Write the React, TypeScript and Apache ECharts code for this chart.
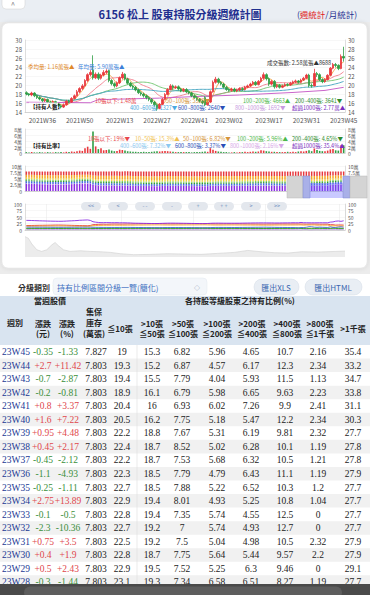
import React, { useEffect, useRef } from 'react';
import * as echarts from 'echarts';

const SANS = '"Noto Sans CJK TC","Noto Sans",sans-serif';
const SERIF = '"Liberation Serif","DejaVu Serif",serif';

// ---------- categories ----------
const weeks: string[] = [];
[[2021, 30, 52], [2022, 1, 52], [2023, 1, 45]].forEach(([y, s, e]) => {
  for (let w = s; w <= e; w++) weeks.push(`${y}W${w < 10 ? '0' + w : w}`);
});
const weekTickLabels = ['2021W36', '2021W50', '2022W13', '2022W27', '2022W41', '2023W02', '2023W17', '2023W31', '2023W45'];

// ---------- weekly price ----------
const priceOpen = [
  18.3, 18.0, 17.8, 18.2, 17.6, 17.2, 16.9, 16.5, 16.8, 16.2,
  16.0, 16.3, 15.8, 15.4, 15.1, 15.6, 16.4, 16.2, 17.0, 17.6,
  18.5, 19.2, 19.8, 21.0, 22.3, 23.3, 21.6, 22.4, 21.5, 22.2,
  22.8, 23.2, 21.0, 20.3, 19.8, 20.5, 21.6, 22.4, 21.3, 20.4,
  19.8, 19.5, 18.9, 18.3, 18.0, 17.6, 17.2, 16.8, 16.2, 15.6,
  14.8, 15.7, 16.8, 17.9, 19.0, 19.8, 19.4, 19.6, 19.1, 18.7,
  19.0, 18.5, 18.2, 17.6, 17.2, 16.8, 16.4, 17.2, 15.6, 16.2,
  18.5, 20.6, 21.3, 20.6, 20.2, 19.5, 19.0, 18.8, 19.1, 18.7,
  18.9, 19.2, 19.0, 19.5, 19.8, 20.2, 20.6, 20.1, 20.8, 21.5,
  22.3, 21.4, 20.2, 20.8, 19.6, 19.9, 19.5, 19.8, 20.1, 20.0,
  20.4, 20.7, 20.9, 20.6, 21.1, 21.5, 22.2, 19.9, 19.8, 22.55,
  22.3, 21.2, 20.75, 21.2, 22.15, 23.75, 24.55, 24.35, 23.65, 26.35];
const priceClose = [
  18.0, 17.8, 18.2, 17.6, 17.2, 16.9, 16.5, 16.8, 16.2, 16.0,
  16.3, 15.8, 15.4, 15.1, 15.6, 16.4, 16.2, 17.0, 17.6, 18.5,
  19.2, 19.8, 21.0, 22.3, 22.8, 21.6, 22.4, 21.5, 22.2, 22.8,
  23.1, 21.0, 20.3, 19.8, 20.5, 21.6, 22.4, 21.3, 20.4, 19.8,
  19.5, 18.9, 18.3, 18.0, 17.6, 17.2, 16.8, 16.2, 15.6, 14.8,
  15.7, 16.8, 17.9, 19.0, 19.8, 19.4, 19.6, 19.1, 18.7, 19.0,
  18.5, 18.2, 17.6, 17.2, 16.8, 16.4, 16.0, 15.6, 16.2, 18.5,
  20.6, 21.3, 20.6, 20.2, 19.5, 19.0, 18.8, 19.1, 18.7, 18.9,
  19.2, 19.0, 19.5, 19.8, 20.2, 20.6, 20.1, 20.8, 21.5, 22.3,
  21.4, 20.2, 20.8, 19.6, 19.9, 19.5, 19.8, 20.1, 20.0, 20.4,
  20.7, 20.9, 20.6, 21.1, 21.5, 22.2, 19.9, 19.8, 22.55, 22.3,
  21.2, 20.75, 21.2, 22.15, 23.75, 24.55, 24.35, 23.65, 26.35, 26.0];
const priceLow = [
  17.7, 17.5, 17.5, 17.3, 16.9, 16.6, 16.1, 16.2, 15.9, 15.7,
  15.8, 15.5, 15.1, 14.8, 14.9, 15.4, 15.9, 16.0, 16.8, 17.4,
  18.2, 18.9, 19.6, 20.7, 21.9, 21.2, 21.3, 21.1, 21.2, 21.9,
  22.4, 20.6, 19.9, 19.4, 19.5, 20.2, 21.3, 21.0, 20.1, 19.5,
  19.1, 18.6, 18.0, 17.6, 17.2, 16.8, 16.4, 15.8, 15.2, 14.3,
  14.6, 15.5, 16.6, 17.7, 18.8, 19.0, 19.1, 18.8, 18.4, 18.4,
  18.2, 17.9, 17.3, 16.9, 16.5, 16.1, 15.7, 15.3, 15.4, 16.0,
  18.3, 20.3, 20.3, 19.9, 19.2, 18.7, 18.5, 18.5, 18.4, 18.4,
  18.6, 18.7, 18.8, 19.3, 19.6, 20.0, 19.8, 19.9, 20.5, 21.2,
  21.0, 19.8, 19.9, 19.2, 19.3, 19.2, 19.3, 19.6, 19.7, 19.8,
  20.1, 20.4, 20.3, 20.4, 20.9, 21.3, 19.5, 19.4, 19.7, 21.8,
  20.9, 20.4, 20.5, 21.0, 22.0, 23.5, 23.9, 23.3, 23.5, 25.2];
const priceHigh = [
  18.6, 18.2, 18.5, 18.4, 17.8, 17.5, 17.1, 17.0, 17.0, 16.5,
  16.6, 16.5, 16.0, 15.7, 15.9, 16.7, 16.7, 17.3, 17.9, 18.9,
  19.5, 20.2, 21.3, 22.6, 23.3, 26.6, 22.8, 22.8, 22.5, 23.3,
  23.5, 23.4, 21.3, 20.6, 20.8, 21.9, 22.9, 22.6, 21.6, 20.7,
  20.1, 19.8, 19.2, 18.6, 18.3, 17.9, 17.5, 17.1, 16.5, 15.9,
  16.0, 17.1, 18.2, 19.3, 20.2, 20.1, 19.9, 19.9, 19.4, 19.3,
  19.3, 18.8, 18.5, 17.9, 17.5, 17.1, 16.7, 17.5, 16.5, 18.8,
  21.0, 21.8, 21.6, 20.9, 20.5, 19.8, 19.3, 19.4, 19.4, 19.2,
  19.5, 19.5, 19.8, 20.1, 20.5, 20.9, 20.9, 21.1, 21.8, 22.8,
  22.6, 21.7, 21.1, 21.1, 20.2, 20.2, 20.1, 20.4, 20.4, 20.7,
  21.0, 21.2, 21.1, 21.4, 21.8, 22.5, 22.5, 20.3, 23.6, 22.9,
  22.6, 21.5, 21.5, 22.4, 24.0, 24.9, 24.9, 24.6, 26.8, 28.5];

// weekly volume (萬張)
const volumeWan = [
  0.3, 0.2, 0.3, 0.2, 0.2, 0.3, 0.2, 0.2, 0.3, 0.2,
  0.2, 0.3, 0.2, 0.3, 0.2, 0.4, 0.3, 0.5, 0.4, 0.6,
  0.8, 0.7, 1.6, 2.1, 1.4, 7.2, 2.2, 1.3, 1.6, 0.9,
  1.0, 1.2, 0.8, 0.6, 0.7, 1.1, 1.0, 0.8, 0.6, 0.5,
  0.4, 0.4, 0.3, 0.3, 0.4, 0.3, 0.3, 0.4, 0.5, 0.6,
  0.5, 0.6, 0.7, 0.6, 0.5, 0.4, 0.3, 0.3, 0.3, 0.3,
  0.3, 0.3, 0.2, 0.3, 0.3, 0.3, 0.4, 0.5, 0.4, 1.6,
  1.1, 0.7, 0.5, 0.4, 0.3, 0.3, 0.2, 0.2, 0.3, 0.2,
  0.3, 0.3, 0.4, 0.3, 0.4, 0.5, 0.4, 0.5, 0.9, 0.8,
  0.6, 0.5, 0.4, 0.4, 0.3, 0.3, 0.3, 0.3, 0.4, 0.3,
  0.4, 0.3, 0.5, 0.6, 0.5, 0.7, 0.9, 0.6, 1.5, 1.0,
  0.7, 0.6, 0.6, 0.8, 1.2, 1.3, 0.9, 0.8, 2.6, 2.58];

// holders with <=10張 (萬人), sampled weeks [weekIndex, value]
const smallHolders = [[0, 1.19], [24, 1.18], [27, 1.24], [50, 1.27], [63, 1.3], [80, 1.33], [100, 1.38], [112, 1.42], [119, 1.48]];

// ---------- holding ratio by class (%) ----------
const r10 = [
  17.2, 17.3, 17.4, 17.6, 17.8, 18.0, 18.1, 18.3, 18.4, 18.6,
  18.8, 19.0, 19.1, 19.0, 18.8, 18.5, 18.2, 17.9, 17.6, 17.4,
  17.1, 16.9, 16.6, 16.4, 17.5, 20.4, 21.2, 21.8, 22.1, 22.3,
  22.0, 22.4, 22.7, 22.9, 22.8, 22.6, 22.7, 22.9, 23.1, 23.2,
  23.3, 23.5, 23.6, 23.8, 23.9, 24.0, 24.2, 24.3, 24.4, 24.5,
  24.3, 24.0, 23.8, 23.6, 23.5, 23.5, 23.6, 23.6, 23.7, 23.8,
  23.9, 24.0, 24.1, 24.2, 24.3, 24.4, 24.5, 24.6, 24.3, 23.9,
  23.6, 23.4, 23.3, 23.4, 23.5, 23.5, 23.6, 23.6, 23.7, 23.6,
  23.5, 23.4, 23.3, 23.2, 23.1, 23.0, 22.9, 22.8, 22.7, 22.6,
  22.8, 23.0, 22.9, 23.1, 23.2, 23.3, 23.3, 23.2, 23.2, 23.1,
  23.2, 23.2, 23.1, 22.9, 22.8, 22.5, 22.7, 22.8, 22.9, 22.7,
  22.3, 22.2, 22.4, 22.2, 20.5, 20.4, 18.9, 19.4, 19.3, 19];
const r50 = [
  14.6, 14.7, 14.8, 14.9, 15.0, 15.1, 15.2, 15.3, 15.4, 15.5,
  15.6, 15.7, 15.8, 15.8, 15.7, 15.6, 15.4, 15.2, 15.0, 14.8,
  14.6, 14.5, 14.3, 14.2, 14.8, 16.5, 17.2, 17.6, 17.9, 18.1,
  18.0, 18.2, 18.3, 18.4, 18.4, 18.3, 18.4, 18.5, 18.6, 18.7,
  18.8, 18.9, 19.0, 19.1, 19.2, 19.3, 19.4, 19.5, 19.6, 19.7,
  19.6, 19.4, 19.3, 19.2, 19.1, 19.1, 19.2, 19.2, 19.3, 19.3,
  19.4, 19.5, 19.5, 19.6, 19.7, 19.8, 19.9, 20.0, 19.7, 19.4,
  19.2, 19.1, 19.0, 19.1, 19.2, 19.2, 19.3, 19.3, 19.3, 19.2,
  19.2, 19.1, 19.1, 19.0, 19.0, 18.9, 18.9, 18.8, 18.7, 18.6,
  18.6, 18.7, 18.7, 18.9, 19.0, 19.1, 19.1, 19.0, 19.0, 19.1,
  19.2, 19.2, 19.3, 19.5, 18.7, 19.2, 19.2, 19.4, 19.4, 18.5,
  18.5, 18.7, 18.7, 18.8, 16.2, 16, 16.1, 15.5, 15.2, 15.3];
const r100 = [
  7.0, 7.1, 7.1, 7.2, 7.2, 7.3, 7.3, 7.4, 7.4, 7.5,
  7.5, 7.6, 7.6, 7.6, 7.5, 7.5, 7.4, 7.3, 7.2, 7.1,
  7.0, 6.9, 6.8, 6.8, 7.0, 7.4, 7.6, 7.7, 7.8, 7.8,
  7.7, 7.8, 7.9, 7.9, 7.8, 7.7, 7.7, 7.8, 7.8, 7.9,
  7.8, 7.8, 7.9, 7.9, 7.9, 8.0, 8.0, 8.0, 8.1, 8.1,
  8.0, 7.9, 7.9, 7.8, 7.8, 7.8, 7.8, 7.9, 7.9, 7.9,
  7.9, 8.0, 8.0, 8.0, 8.1, 8.1, 8.1, 8.2, 8.0, 7.9,
  7.9, 7.8, 7.8, 7.8, 7.9, 7.9, 7.9, 8.0, 8.0, 7.9,
  7.9, 7.8, 7.8, 7.7, 7.7, 7.6, 7.6, 7.5, 7.5, 7.4,
  7.4, 7.5, 7.5, 7.5, 7.6, 7.6, 7.6, 7.5, 7.5, 7.4,
  7.4, 7.4, 7.34, 7.52, 7.75, 7.5, 7, 7.35, 8.01, 7.88,
  7.79, 7.53, 8.52, 7.67, 7.75, 6.93, 6.79, 7.79, 6.87, 6.82];
const r200 = [
  5.8, 5.8, 5.9, 5.9, 6.0, 6.0, 6.0, 6.1, 6.1, 6.1,
  6.2, 6.2, 6.2, 6.2, 6.1, 6.1, 6.0, 6.0, 5.9, 5.9,
  5.8, 5.8, 5.7, 5.7, 5.8, 6.0, 6.1, 6.1, 6.2, 6.2,
  6.1, 6.1, 6.2, 6.2, 6.1, 6.1, 6.0, 6.0, 6.1, 6.1,
  6.2, 6.2, 6.3, 6.3, 6.3, 6.4, 6.4, 6.5, 6.5, 6.5,
  6.4, 6.3, 6.2, 6.1, 6.1, 6.0, 6.0, 6.0, 6.1, 6.1,
  6.1, 6.2, 6.2, 6.2, 6.3, 6.3, 6.3, 6.4, 6.2, 6.0,
  5.9, 5.8, 5.8, 5.8, 5.8, 5.9, 5.9, 5.9, 5.9, 5.8,
  5.8, 5.8, 5.7, 5.7, 5.7, 5.6, 5.6, 5.6, 5.5, 5.5,
  5.5, 5.5, 5.6, 5.6, 5.6, 5.6, 5.5, 5.5, 5.5, 5.4,
  5.4, 5.5, 6.58, 5.25, 5.64, 5.04, 5.74, 5.74, 4.93, 5.22,
  4.79, 5.68, 5.02, 5.31, 5.18, 6.02, 5.98, 4.04, 4.57, 5.96];
const r400 = [
  5.2, 5.2, 5.3, 5.3, 5.3, 5.4, 5.4, 5.4, 5.5, 5.5,
  5.5, 5.6, 5.6, 5.6, 5.5, 5.5, 5.4, 5.4, 5.3, 5.3,
  5.2, 5.2, 5.1, 5.1, 5.2, 5.5, 5.7, 5.8, 5.9, 6.0,
  6.0, 6.1, 6.1, 6.2, 6.2, 6.1, 6.1, 6.2, 6.2, 6.3,
  6.3, 6.3, 6.3, 6.4, 6.4, 6.4, 6.4, 6.5, 6.5, 6.5,
  6.4, 6.4, 6.3, 6.3, 6.3, 6.2, 6.2, 6.2, 6.3, 6.3,
  6.3, 6.3, 6.4, 6.4, 6.4, 6.4, 6.5, 6.5, 6.4, 6.2,
  6.2, 6.1, 6.1, 6.1, 6.1, 6.2, 6.2, 6.2, 6.2, 6.1,
  6.1, 6.1, 6.0, 6.0, 6.0, 5.9, 5.9, 5.9, 5.8, 5.8,
  5.8, 5.9, 5.9, 6.0, 6.0, 6.1, 6.1, 6.2, 6.2, 6.3,
  6.3, 6.4, 6.51, 6.3, 5.44, 4.98, 4.93, 4.55, 5.25, 6.52,
  6.43, 6.32, 6.28, 6.19, 5.47, 7.26, 6.65, 5.93, 6.17, 4.65];
const r800 = [
  11.0, 11.0, 10.9, 10.9, 10.8, 10.8, 10.7, 10.7, 10.6, 10.6,
  10.5, 10.5, 10.4, 10.4, 10.5, 10.5, 10.6, 10.6, 10.7, 10.7,
  10.8, 10.8, 10.9, 10.9, 10.8, 10.5, 10.3, 10.2, 10.1, 10.0,
  10.0, 9.9, 9.9, 9.8, 9.8, 9.9, 9.9, 10.0, 10.0, 9.9,
  9.8, 9.7, 9.6, 9.5, 9.4, 9.3, 9.2, 9.1, 9.0, 8.9,
  9.0, 9.2, 9.4, 9.5, 9.6, 9.6, 9.6, 9.5, 9.5, 9.4,
  9.4, 9.3, 9.2, 9.1, 9.0, 8.9, 8.8, 8.7, 8.9, 9.3,
  9.6, 9.8, 9.9, 9.9, 9.8, 9.8, 9.7, 9.7, 9.6, 9.7,
  9.8, 9.9, 10.0, 10.1, 10.2, 10.3, 10.4, 10.5, 10.6, 10.8,
  10.7, 10.5, 10.4, 10.2, 10.0, 9.9, 9.8, 9.7, 9.6, 9.5,
  9.4, 9.3, 8.27, 9.46, 9.57, 10.5, 12.7, 12.5, 10.8, 10.3,
  11.1, 10.5, 10.1, 9.81, 12.2, 9.9, 9.63, 11.5, 12.3, 10.7];
const r1k = [
  2.2, 2.2, 2.2, 2.1, 2.1, 2.1, 2.1, 2.0, 2.0, 2.0,
  2.0, 2.0, 1.9, 1.9, 1.9, 2.0, 2.0, 2.0, 2.1, 2.1,
  2.1, 2.2, 2.2, 2.2, 2.1, 1.9, 1.8, 1.7, 1.7, 1.6,
  1.6, 1.6, 1.5, 1.5, 1.5, 1.6, 1.6, 1.6, 1.5, 1.5,
  1.4, 1.4, 1.3, 1.3, 1.2, 1.2, 1.2, 1.1, 1.1, 1.0,
  1.1, 1.2, 1.3, 1.3, 1.4, 1.4, 1.4, 1.4, 1.3, 1.3,
  1.3, 1.2, 1.2, 1.2, 1.1, 1.1, 1.1, 1.0, 1.1, 1.3,
  1.4, 1.5, 1.5, 1.5, 1.5, 1.4, 1.4, 1.4, 1.4, 1.4,
  1.5, 1.5, 1.5, 1.6, 1.6, 1.6, 1.7, 1.7, 1.7, 1.8,
  1.8, 1.7, 1.6, 1.5, 1.4, 1.3, 1.3, 1.2, 1.2, 1.2,
  1.2, 1.2, 1.19, 0, 2.2, 2.32, 0, 0, 1.04, 1.2,
  1.19, 1.21, 1.19, 2.32, 2.34, 2.41, 2.23, 1.13, 2.34, 2.16];
const r1kp = [
  37.0, 36.8, 36.5, 36.1, 35.7, 35.3, 35.0, 34.7, 34.4, 34.1,
  33.9, 33.7, 33.5, 33.5, 33.8, 34.3, 34.8, 35.3, 35.8, 36.4,
  37.4, 37.8, 38.3, 38.7, 36.8, 31.8, 30.1, 29.0, 28.3, 28.2,
  28.6, 28.3, 28.1, 28.0, 28.2, 27.7, 27.8, 27.6, 27.4, 27.1,
  26.4, 26.2, 26.0, 25.8, 25.6, 25.4, 25.2, 25.0, 24.9, 24.8,
  25.2, 25.6, 26.0, 26.3, 26.4, 26.4, 26.3, 26.2, 26.0, 25.9,
  25.7, 25.5, 25.3, 25.1, 24.9, 24.7, 24.6, 24.6, 25.1, 25.7,
  26.2, 26.3, 26.4, 26.3, 26.2, 26.1, 26.1, 26.1, 26.1, 26.2,
  26.2, 26.4, 26.6, 26.8, 26.9, 27.1, 27.2, 27.3, 27.4, 27.4,
  27.4, 27.2, 27.3, 27.0, 27.0, 27.1, 27.3, 27.4, 27.5, 27.6,
  27.9, 27.8, 27.7, 29.1, 27.9, 27.9, 27.7, 27.7, 27.7, 27.7,
  27.9, 27.8, 27.8, 27.7, 30.3, 31.1, 33.8, 34.7, 33.2, 35.4];
const ratioSeriesData = [r10, r50, r100, r200, r400, r800, r1k, r1kp];
const ratioClassNames = ['≦10張', '10~50張', '50~100張', '100~200張', '200~400張', '400~800張', '800~1000張', '超過1000張'];
const depositoryTotal = 7.803; // 萬張

// history shadow (bottom navigator)
const shadowPos = [0, 1.05, 2.1, 3.7, 5.2, 6.8, 8.4, 9.4, 10.5, 12.0, 14.1, 17.3, 20.4, 23.6, 26.7, 29.8, 34.0, 39.3, 44.5, 49.7, 55.0, 60.2, 65.4, 69.6, 73.8, 78.0, 82.2, 86.4, 91.6, 96.9, 100];
const shadowVol = [62, 57, 40, 22, 17, 22, 37, 44, 34, 22, 17, 19, 17, 16, 14, 10, 7, 8, 10, 9, 8, 11, 14, 20, 16, 13, 12, 16, 15, 17, 18];

// annotation texts
const countLabels = ['10張以下: 1.48萬', '50~100張: 5339▼', '100~200張: 4663▲', '200~400張: 3641▼', '400~600張: 1327▼', '600~800張: 2640▼', '800~1000張: 1692▼', '超過1000張: 2.77萬▲'];
const ratioLabels = ['10張以下: 19%▼', '10~50張: 15.3%▲', '50~100張: 6.82%▼', '100~200張: 5.96%▲', '200~400張: 4.65%▼', '400~600張: 7.32%▼', '600~800張: 3.37%▼', '800~1000張: 2.16%▼', '超過1000張: 35.4%▲'];
const volumeNotes = ['季均量: 1.16萬張▲', '年均量: 5.90萬張▲', '成交張數: 2.58萬張▲8688'];

// table
const tableWeeks = ['23W45', '23W44', '23W43', '23W42', '23W41', '23W40', '23W39', '23W38', '23W37', '23W36', '23W35', '23W34', '23W33', '23W32', '23W31', '23W30', '23W29', '23W28'];
const tableChg = [-0.35, 2.7, -0.7, -0.2, 0.8, 1.6, 0.95, 0.45, -0.45, -1.1, -0.25, 2.75, -0.1, -2.3, 0.75, 0.4, 0.5, -0.3];
const tableChgPct = [-1.33, 11.42, -2.87, -0.81, 3.37, 7.22, 4.48, 2.17, -2.12, -4.93, -1.11, 13.89, -0.5, -10.36, 3.5, 1.9, 2.43, -1.44];
const tableStock = [7.827, 7.803, 7.803, 7.803, 7.803, 7.803, 7.803, 7.803, 7.803, 7.803, 7.803, 7.803, 7.803, 7.803, 7.803, 7.803, 7.803, 7.803];
const headTop = ['>10張', '>50張', '>100張', '>200張', '>400張', '>800張'];
const headBottom = ['≦50張', '≦100張', '≦200張', '≦400張', '≦800張', '≦1千張'];
const navButtons = ['<<', '<', '- -', '-', '+', '+ +', '>', '>>'];

function movingAverage(n: number) {
  return priceClose.map((_, i) => {
    const s = Math.max(0, i - n + 1);
    const seg = priceClose.slice(s, i + 1);
    return +(seg.reduce((a, b) => a + b, 0) / seg.length).toFixed(2);
  });
}

const RED = '#e8383d';
const GREEN = '#2f9e44';
const classColors = ['#e8383d', '#f5a623', '#f2d13a', '#7fcd5a', '#2e9b2e', '#4169e1', '#c39be6', '#8a2be2'];

function txt(text: string, x: number, y: number, size: number, fill: string, opt: any = {}) {
  const align = opt.align || 'center';
  return {
    type: 'text', z: opt.z ?? 100, silent: true,
    style: {
      text, x, y, fontSize: size, fill, fontFamily: opt.family || SANS, fontWeight: opt.weight || 'normal',
      align, verticalAlign: 'middle', textAlign: align, textVerticalAlign: 'middle',
      lineHeight: opt.lh || undefined,
    },
  };
}
function rect(x: number, y: number, w: number, h: number, fill: string, opt: any = {}) {
  return {
    type: 'rect', z: opt.z ?? 100, silent: true,
    shape: { x, y, width: w, height: h, r: opt.r || 0 },
    style: { fill, stroke: opt.stroke || 'none', lineWidth: opt.lw || 0.5, opacity: opt.opacity ?? 1, shadowBlur: opt.blur || 0, shadowColor: opt.shadow || 'rgba(0,0,0,0)' },
  };
}
function hline(x1: number, y1: number, x2: number, y2: number, stroke: string, z = 100) {
  return { type: 'line', z, silent: true, shape: { x1, y1, x2, y2 }, style: { stroke, lineWidth: 0.6 } };
}

function buildGraphics() {
  const g: any[] = [];
  // backgrounds
  g.push(rect(0, 0, 370, 275, '#ececec', { z: 0 }));
  g.push(rect(0, 0, 370, 22, '#eaeef3', { z: 0 }));
  g.push(rect(2, 23, 365, 245, '#ffffff', { z: 0, r: 6, stroke: '#e0e0e0', blur: 4, shadow: 'rgba(0,0,0,0.12)' }));
  // header
  g.push(rect(2, -5, 23, 14, '#ffffff', { z: 1, r: 4, stroke: '#cfcfcf' }));
  g.push(txt('^', 13, 4.5, 8, '#888', { z: 2 }));
  g.push(txt('6156 松上 股東持股分級週統計圖', 180, 14, 11, '#1f2f8f', { weight: 'bold' }));
  g.push({
    type: 'text', z: 100, silent: true,
    style: {
      text: '{a|(}{b|週統計}{a|/月統計)}', x: 327, y: 14, align: 'center', verticalAlign: 'middle', textAlign: 'center', textVerticalAlign: 'middle',
      fontFamily: SANS, fontSize: 8.5,
      rich: { a: { fill: '#1f2f8f', color: '#1f2f8f', fontSize: 8.5, fontFamily: SANS }, b: { fill: '#e02020', color: '#e02020', fontSize: 8.5, fontFamily: SANS } },
    },
  });
  // chart 1 notes
  g.push(txt(volumeNotes[0], 28, 67, 5.5, '#e0892a', { align: 'left' }));
  g.push(txt(volumeNotes[1], 78, 67, 5.5, '#3d7fd9', { align: 'left' }));
  g.push(txt(volumeNotes[2], 267, 63, 5.5, '#333', { align: 'left' }));
  g.push(rect(29, 102.5, 29, 8, '#ffffff', { z: 95, opacity: 0.85 }));
  g.push(txt('【持有人數】', 30, 106.5, 5.5, '#111', { align: 'left', weight: 'bold', lh: 6 }));
  const cX = [95, 166, 243, 295, 130, 178, 235, 292];
  const cColors = ['#e8474b', '#d4943a', '#4cb84c', '#2e8b2e', '#4aa8e0', '#2a4fb8', '#c79ae0', '#7b2fbf'];
  countLabels.forEach((t, k) => g.push(txt(t, cX[k], k < 4 ? 101 : 107.5, 5.5, cColors[k], { align: 'left', lh: 6 })));
  // chart 2 notes
  const rX = [88, 135, 183, 237, 292, 120, 175, 230, 292];
  const rColors = ['#e8474b', '#f0c050', '#d4943a', '#4cb84c', '#2e8b2e', '#8cc8f0', '#2a4fb8', '#d7a8e8', '#7b2fbf'];
  ratioLabels.forEach((t, k) => g.push(txt(t, rX[k], k < 5 ? 139 : 145.5, 5.5, rColors[k], { align: 'left', lh: 6 })));
  g.push(txt('【持有比率】', 30, 145.5, 5.5, '#111', { align: 'left', weight: 'bold', lh: 6 }));
  // navigator overlay on chart 3
  g.push(rect(287, 176, 16, 22, '#d4d4d4', { stroke: '#b8b8b8' }));
  g.push(rect(303, 176, 7, 22, '#a9b0e8', { stroke: '#7f88d0' }));
  g.push(rect(310, 183, 33, 15, 'rgba(100,100,255,0.35)'));
  g.push(rect(343, 176, 7, 22, '#a9b0e8', { stroke: '#7f88d0' }));
  g.push(rect(350, 176, 17, 22, '#d4d4d4', { stroke: '#b8b8b8' }));
  // buttons
  const bx = [91, 118, 145, 172, 198, 224, 251, 277];
  navButtons.forEach((b, k) => {
    g.push(rect(bx[k] - 10, 202, 20, 8.5, '#e3e7ed', { r: 4.25 }));
    g.push(txt(b, bx[k], 206.3, 5.5, '#6f8fbf'));
  });
  // table area
  g.push(rect(0, 274, 370, 321, '#ffffff', { z: 80 }));
  g.push(txt('分級類別：', 18, 287, 8, '#333', { align: 'left', weight: 'bold' }));
  g.push(rect(53, 278, 154, 17, '#f3f6fa', { r: 4, stroke: '#e2e8ef' }));
  g.push(txt('持有比例區間分級一覽(簡化)', 57, 287, 8, '#3c6fc0', { align: 'left' }));
  g.push(txt('◇', 197, 287, 6, '#7a8ca8'));
  g.push(rect(254, 279, 45, 16, '#e9eef4', { r: 8, stroke: '#d5dde7' }));
  g.push(txt('匯出XLS', 276, 287, 8, '#3d68b0'));
  g.push(rect(305, 279, 57, 16, '#e9eef4', { r: 8, stroke: '#d5dde7' }));
  g.push(txt('匯出HTML', 333, 287, 8, '#3d68b0'));
  // table head
  g.push(rect(0, 296, 370, 49, '#d9e4f0'));
  const HB = { weight: 'bold', lh: 9 };
  g.push(txt('當週股價', 50, 300.5, 8, '#222', HB));
  g.push(txt('各持股等級股東之持有比例(%)', 240, 300.5, 8, '#222', HB));
  g.push(txt('集保', 94, 311.5, 8, '#222', HB));
  g.push(txt('週別', 15, 322, 8, '#222', HB));
  g.push(txt('漲跌', 43, 323, 8, '#222', HB));
  g.push(txt('(元)', 43, 333.5, 8, '#222', HB));
  g.push(txt('漲跌', 67, 323, 8, '#222', HB));
  g.push(txt('(%)', 67, 333.5, 8, '#222', HB));
  g.push(txt('庫存', 94, 322.5, 8, '#222', HB));
  g.push(txt('(萬張)', 94, 333.5, 8, '#222', HB));
  g.push(txt('≦10張', 120, 328, 8, '#222', HB));
  const hx = [152, 183, 217, 252, 287, 320];
  headTop.forEach((t, k) => {
    g.push(txt(t, hx[k], 323, 8, '#222', HB));
    g.push(txt(headBottom[k], hx[k], 333.5, 8, '#222', HB));
  });
  g.push(txt('>1千張', 353, 328, 8, '#222', HB));
  // table rows
  const colX = [122, 152, 182, 217, 251, 285, 318, 353];
  const sign = (v: number) => (v > 0 ? '+' + v : String(v));
  tableWeeks.forEach((w, k) => {
    const top = 345 + 13.55 * k;
    const cy = top + 7;
    if (k % 2 === 1) g.push(rect(0, top, 370, 13.55, '#f1f1f1', { z: 90 }));
    const i = weeks.length - 1 - k;
    g.push(txt(w, 2, cy, 9.5, '#1b3a94', { align: 'left', family: SERIF }));
    const cc = tableChg[k] > 0 ? '#e0474c' : '#3a8f3a';
    g.push(txt(sign(tableChg[k]), 43, cy, 9.5, cc, { family: SERIF }));
    g.push(txt(sign(tableChgPct[k]), 68, cy, 9.5, cc, { family: SERIF }));
    g.push(txt(String(tableStock[k]), 96, cy, 9.5, '#222', { family: SERIF }));
    ratioSeriesData.forEach((arr, c) => g.push(txt(String(arr[i]), colX[c], cy, 9.5, '#222', { family: SERIF })));
  });
  g.push(hline(137, 345, 137, 584, '#dddddd', 95));
  // bottom browser bar
  g.push(rect(0, 584, 370, 11, '#4a4a4a', { z: 120 }));
  g.push(rect(24, 586.5, 318, 12, '#5d5d5d', { z: 121, r: 6 }));
  return g;
}

function buildOption() {
  const wanFmt = (v: number) => (v === 0 ? '0' : v + '萬');
  const cat = (gi: number, extra: any = {}) => ({
    type: 'category', gridIndex: gi, data: weeks, boundaryGap: true,
    axisLine: { show: true, lineStyle: { color: '#bbbbbb', width: 0.6 } },
    axisTick: { show: false },
    axisLabel: { show: false },
    splitLine: { show: false },
    ...extra,
  });
  const val = (gi: number, pos: string, min: number, max: number, interval: number, fmt?: any, size = 6) => ({
    type: 'value', gridIndex: gi, position: pos, min, max, interval,
    axisLine: { show: true, lineStyle: { color: '#c8c8c8', width: 0.6 } },
    axisTick: { show: false },
    axisLabel: { fontSize: size, lineHeight: size, color: '#555', margin: 3, fontFamily: SANS, formatter: fmt },
    splitLine: { show: pos === 'left', lineStyle: { color: '#eeeeee', width: 0.5 } },
  });
  const G = (top: number, height: number, extra: any = {}) => ({ left: 25, width: 320, top, height, containLabel: false, outerBoundsMode: 'none', ...extra });

  const maSpecs: [number, string][] = [[4, '#f0a040'], [13, '#f07a8a'], [26, '#6cc46c'], [52, '#3fa3c0']];
  const series: any[] = [
    {
      type: 'candlestick', xAxisIndex: 0, yAxisIndex: 0, barWidth: '70%', z: 3,
      data: priceOpen.map((o, i) => [o, priceClose[i], priceLow[i], priceHigh[i]]),
      itemStyle: { color: RED, color0: GREEN, borderColor: RED, borderColor0: GREEN, borderWidth: 0.8 },
    },
    ...maSpecs.map(([n, c]) => ({
      type: 'line', xAxisIndex: 0, yAxisIndex: 0, data: movingAverage(n), symbol: 'none', smooth: true,
      lineStyle: { width: 0.9, color: c }, z: 2,
    })),
    {
      type: 'line', xAxisIndex: 0, yAxisIndex: 2, data: smallHolders, symbol: 'none',
      lineStyle: { width: 0.9, color: '#c455c4' }, z: 2,
    },
    {
      type: 'bar', xAxisIndex: 1, yAxisIndex: 3, data: volumeWan, barWidth: '60%',
      itemStyle: { color: (p: any) => (priceClose[p.dataIndex] >= priceOpen[p.dataIndex] ? RED : GREEN) },
    },
  ];
  for (let c = ratioSeriesData.length - 1; c >= 0; c--) {
    series.push({
      type: 'bar', name: ratioClassNames[c], xAxisIndex: 2, yAxisIndex: 5, stack: 'hold', barWidth: '55%',
      data: ratioSeriesData[c].map((v) => +((v * depositoryTotal) / 100).toFixed(3)),
      itemStyle: { color: classColors[c] },
    });
  }
  ratioSeriesData.forEach((arr, c) => {
    series.push({
      type: 'line', name: ratioClassNames[c], xAxisIndex: 3, yAxisIndex: 7, data: arr, symbol: 'none',
      lineStyle: { width: 0.9, color: classColors[c] },
    });
  });
  series.push({
    type: 'line', xAxisIndex: 4, yAxisIndex: 9, data: shadowPos.map((x, i) => [x, shadowVol[i]]), symbol: 'none',
    lineStyle: { width: 0.6, color: '#cfcfcf' }, areaStyle: { color: '#e4e4e4' },
  });

  return {
    animation: false,
    backgroundColor: '#ffffff',
    grid: [
      G(40, 72, { show: true, borderColor: '#dddddd', borderWidth: 0.5 }),
      G(129, 24, { show: true, borderColor: '#dddddd', borderWidth: 0.5 }),
      G(166, 25),
      G(204, 26),
      G(234, 23),
    ],
    xAxis: [
      cat(0, {
        axisLabel: {
          show: true, interval: (i: number) => weekTickLabels.includes(weeks[i]),
          fontSize: 6.5, lineHeight: 6.5, color: '#555', margin: 5, fontFamily: SANS,
        },
      }),
      cat(1),
      cat(2),
      cat(3, { splitLine: { show: true, interval: (i: number) => [8, 36, 63, 90, 118].includes(i), lineStyle: { color: '#e6e6e6', width: 0.5 } } }),
      { type: 'value', gridIndex: 4, min: 0, max: 100, show: false },
    ],
    yAxis: [
      val(0, 'left', 14, 30, 2),
      val(0, 'right', 14, 30, 2),
      { type: 'value', gridIndex: 0, show: false, min: 1.0, max: 2.4 },
      val(1, 'left', 0, 8, 2, wanFmt, 5),
      val(1, 'right', 0, 8, 2, wanFmt, 5),
      val(2, 'left', 0, 10, 2.5, wanFmt, 5),
      val(2, 'right', 0, 10, 2.5, wanFmt, 5),
      val(3, 'left', 0, 100, 25, undefined, 5),
      val(3, 'right', 0, 100, 25, undefined, 5),
      { type: 'value', gridIndex: 4, show: false, min: 0, max: 70 },
    ],
    series,
    graphic: { elements: buildGraphics() },
  };
}

export default function App() {
  const ref = useRef<HTMLDivElement>(null);
  useEffect(() => {
    const chart = echarts.init(ref.current!, null, { renderer: 'svg' });
    chart.setOption(buildOption() as any);
    return () => chart.dispose();
  }, []);
  return <div ref={ref} style={{ position: 'fixed', left: 0, top: 0, width: 370, height: 595 }} />;
}
